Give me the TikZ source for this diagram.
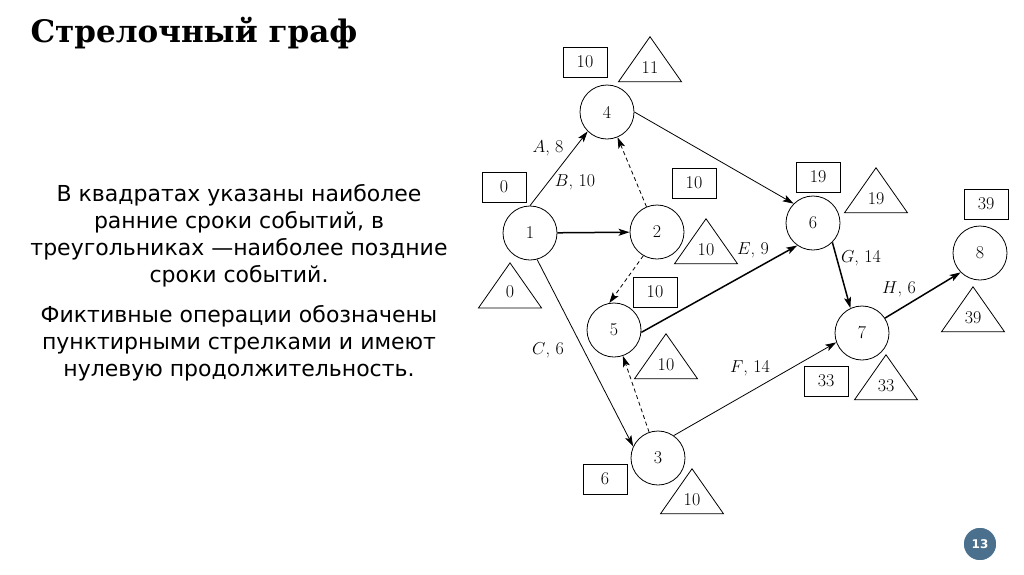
\documentclass[tikz,border=0pt]{standalone}
\usepackage{fontspec}
\setsansfont{DejaVu Sans}
\newfontfamily\titlefont{DejaVu Serif}
\usetikzlibrary{arrows.meta,shapes.geometric,positioning}
\definecolor{pagenum}{RGB}{74,112,142}
\begin{document}
\begin{tikzpicture}[
        x=1pt, y=-1pt,
        font=\fontsize{18}{20}\selectfont,
        >={Stealth[length=11pt,width=7pt,inset=2.5pt]}
    ]
    \tikzset{
        evnode/.style = {circle, draw=black, line width=0.8pt, minimum size=54pt, inner sep=0pt},
        early/.style = {rectangle, draw=black, line width=0.8pt, minimum width=44pt, minimum height=30pt, inner sep=0pt},
        late/.style = {isosceles triangle, draw=black, line width=0.8pt, shape border rotate=90,
                       isosceles triangle stretches, minimum width=63pt, minimum height=45pt, inner sep=0pt},
        lbl/.style = {inner sep=1pt},
        edgen/.style = {->, line width=0.8pt},
        edgeb/.style = {->, line width=1.5pt},
        edged/.style = {->, dash pattern=on 4pt off 3pt, line width=0.8pt},
        body/.style = {align=center, font=\sffamily\fontsize{22}{27}\selectfont, inner sep=0pt},
    }
    \useasboundingbox (0,0) rectangle (1024,574);
        \node[anchor=base west, font=\titlefont\bfseries\fontsize{31}{34}\selectfont] at (27,42) (title) {Стрелочный граф};
        \node[body, anchor=north] at (239,184) (txta) {В квадратах указаны наиболее\\ранние сроки событий, в\\треугольниках —наиболее поздние\\сроки событий.};
        \node[body, below=18pt of txta] (txtb) {Фиктивные операции обозначены\\пунктирными стрелками и имеют\\нулевую продолжительность.};
        %
        \node[evnode] at (530,233) (n1) {1};
        \node[evnode] at (657,232) (n2) {2};
        \node[evnode] at (658,458) (n3) {3};
        \node[evnode] at (607,112) (n4) {4};
        \node[evnode] at (614,330) (n5) {5};
        \node[evnode] at (813,223) (n6) {6};
        \node[evnode] at (862,333) (n7) {7};
        \node[evnode] at (980,253) (n8) {8};
        %
        \node[early] at (504,187) (e1) {0};
        \node[early] at (694,183) (e2) {10};
        \node[early] at (605,479) (e3) {6};
        \node[early] at (585,62) (e4) {10};
        \node[early] at (655,292) (e5) {10};
        \node[early] at (818,177) (e6) {19};
        \node[early] at (826,381) (e7) {33};
        \node[early] at (986,204) (e8) {39};
        %
        \node[late] at (510,292) (l1) {0};
        \node[late] at (706,250) (l2) {10};
        \node[late] at (692,500) (l3) {10};
        \node[late] at (650,68) (l4) {11};
        \node[late] at (666,365) (l5) {10};
        \node[late] at (876,199) (l6) {19};
        \node[late] at (886,386) (l7) {33};
        \node[late] at (973,318) (l8) {39};
        %
        \draw[edgen] (n1.north) -- (n4.225);
        \draw[edgeb] (n1) -- (n2);
        \draw[edgen] (n1.285) -- (n3.155);
        \draw[edged] (n2) -- (n4);
        \draw[edged] (n2.240) -- (n5.100);
        \draw[edged] (n3) -- (n5);
        \draw[edgen] (n4.east) -- (n6.135);
        \draw[edgeb] (n5.355) -- (n6.235);
        \draw[edgen] (n3.55) -- (n7.200);
        \draw[edgeb] (n6.315) -- (n7.115);
        \draw[edgeb] (n7.33) -- (n8.225);
        %
        \node[lbl] at (548,148) (la) {$A$, 8};
        \node[lbl] at (575,182) (lb) {$B$, 10};
        \node[lbl] at (548,350) (lc) {$C$, 6};
        \node[lbl] at (753,250) (le) {$E$, 9};
        \node[lbl] at (750,368) (lf) {$F$, 14};
        \node[lbl] at (861,258) (lg) {$G$, 14};
        \node[lbl] at (899,289) (lh) {$H$, 6};
        %
        \node[circle, fill=pagenum, draw=white, line width=1.5pt, minimum size=34pt, inner sep=0pt,
              text=white, font=\sffamily\bfseries\fontsize{12}{14}\selectfont] at (980,544) (pg) {13};
    \end{tikzpicture}
\end{document}
